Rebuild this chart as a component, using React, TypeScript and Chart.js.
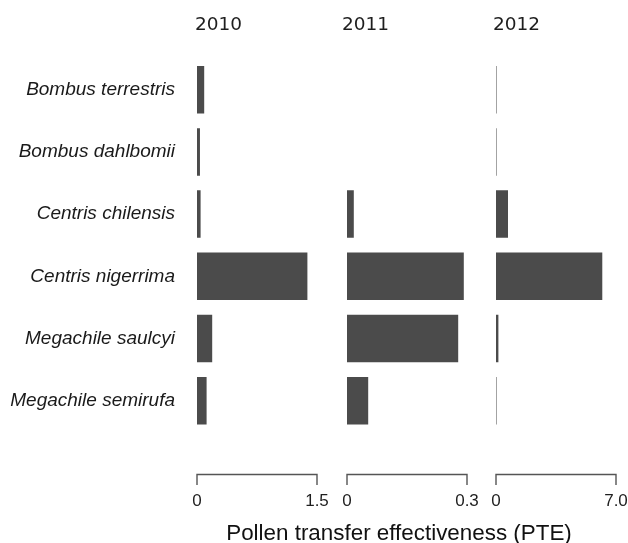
import React, { useEffect, useRef } from 'react';
import { Chart, registerables } from 'chart.js';

Chart.register(...registerables);

// ---- data ----
const species = [
  'Bombus terrestris',
  'Bombus dahlbomii',
  'Centris chilensis',
  'Centris nigerrima',
  'Megachile saulcyi',
  'Megachile semirufa',
];
const years = ['2010', '2011', '2012'];
const pte2010 = [0.09, 0.037, 0.045, 1.38, 0.19, 0.12];
const pte2011 = [null, null, 0.017, 0.292, 0.278, 0.053];
const pte2012 = [0.03, 0.03, 0.7, 6.2, 0.14, 0.03];
const axisMax = [1.5, 0.3, 7.0];
const tickLabels2010 = ['0', '1.5'];
const tickLabels2011 = ['0', '0.3'];
const tickLabels2012 = ['0', '7.0'];
const xTitle = 'Pollen transfer effectiveness (PTE)';

const seriesByYear = [pte2010, pte2011, pte2012];
const tickLabelsByYear = [tickLabels2010, tickLabels2011, tickLabels2012];

// ---- layout / style ----
const W = 628;
const H = 543;
const panelLeft = [197, 347, 496];
const panelWidth = 120;
const yearOffset = [-2, -5, -3];
const plotTop = 58.6;
const xAxisHeight = 111.2;
const labelGap = 59.6;
const SANS = '"Liberation Sans", Arial, Helvetica, sans-serif';
const BAR = '#4b4b4b';

function makeConfig(i: number): any {
  const bracketPlugin = {
    id: 'bracket' + i,
    afterDraw(chart: any) {
      const ctx = chart.ctx;
      const xs = chart.scales.x;
      const x0 = xs.getPixelForValue(0);
      const x1 = xs.getPixelForValue(axisMax[i]);
      const yLine = 474.5;
      const yTick = 485;
      ctx.save();
      ctx.strokeStyle = '#555555';
      ctx.lineWidth = 1.4;
      ctx.beginPath();
      ctx.moveTo(x0, yTick);
      ctx.lineTo(x0, yLine);
      ctx.lineTo(x1, yLine);
      ctx.lineTo(x1, yTick);
      ctx.stroke();
      // year label
      ctx.fillStyle = '#1e1e1e';
      ctx.font = '18.5px "DejaVu Sans", sans-serif';
      ctx.textAlign = 'left';
      ctx.textBaseline = 'alphabetic';
      ctx.fillText(years[i], chart.chartArea.left + yearOffset[i], 30);
      if (i === 1) {
        ctx.fillStyle = '#111111';
        ctx.font = '22.4px ' + SANS;
        ctx.textAlign = 'center';
        ctx.fillText(xTitle, 399, 539.5);
      }
      ctx.restore();
    },
  };

  return {
    type: 'bar',
    data: {
      labels: species,
      datasets: [
        {
          data: seriesByYear[i],
          backgroundColor: BAR,
          borderWidth: 0,
          categoryPercentage: 1,
          barPercentage: 0.764,
        },
      ],
    },
    options: {
      indexAxis: 'y',
      responsive: false,
      maintainAspectRatio: false,
      animation: false,
      events: [],
      layout: {
        padding: {
          left: i === 0 ? 0 : panelLeft[i],
          right: W - panelLeft[i] - panelWidth,
          top: plotTop,
          bottom: 0,
        },
      },
      plugins: {
        legend: { display: false },
        tooltip: { enabled: false },
        title: { display: false },
      },
      scales: {
        x: {
          type: 'linear',
          position: 'bottom',
          min: 0,
          max: axisMax[i],
          grid: { display: false, drawTicks: true, tickLength: labelGap },
          border: { display: false },
          afterBuildTicks: (s: any) => {
            s.ticks = [{ value: 0 }, { value: axisMax[i] }];
          },
          ticks: {
            autoSkip: false,
            maxRotation: 0,
            padding: 0,
            color: '#1e1e1e',
            font: { family: SANS, size: 17 },
            callback: (_v: any, idx: number) => tickLabelsByYear[i][idx],
          },
          afterFit: (s: any) => {
            s.height = xAxisHeight;
          },
        },
        y: {
          type: 'category',
          display: i === 0,
          grid: { display: false, drawTicks: false },
          border: { display: false },
          ticks: {
            padding: 22,
            color: '#1a1a1a',
            font: { family: SANS, size: 19, style: 'italic' },
          },
          afterFit: (s: any) => {
            s.width = i === 0 ? panelLeft[0] : 0;
          },
        },
      },
    },
    plugins: [bracketPlugin],
  };
}

function Panel({ index }: { index: number }) {
  const ref = useRef<HTMLCanvasElement | null>(null);
  useEffect(() => {
    if (!ref.current) return;
    const chart = new Chart(ref.current, makeConfig(index));
    return () => chart.destroy();
  }, [index]);
  return (
    <canvas
      ref={ref}
      width={W}
      height={H}
      style={{ position: 'absolute', left: 0, top: 0, width: W, height: H }}
    />
  );
}

export default function App() {
  return (
    <div
      style={{
        position: 'fixed',
        left: 0,
        top: 0,
        width: W,
        height: H,
        background: '#ffffff',
        overflow: 'hidden',
      }}
    >
      {[0, 1, 2].map((i) => (
        <Panel key={i} index={i} />
      ))}
    </div>
  );
}
